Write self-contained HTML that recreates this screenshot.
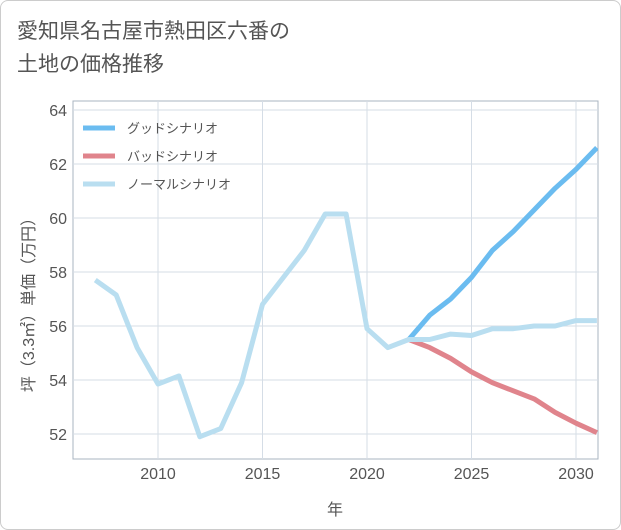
<!DOCTYPE html>
<html><head><meta charset="utf-8">
<style>
body{margin:0;background:#fff;}
#card{position:relative;width:619px;height:528px;border:1px solid #ccc;border-radius:8px;background:#fff;overflow:hidden;font-family:"Liberation Sans","Noto Sans CJK JP",sans-serif;}
#title{position:absolute;left:16px;top:14px;font-size:21px;line-height:33px;color:#555;}
</style></head><body>
<div id="card">
<div id="title">愛知県名古屋市熱田区六番の<br>土地の価格推移</div>
<svg id="chart" width="621" height="530" style="position:absolute;left:0;top:0"></svg>
</div>
<script>
const years=[2007,2008,2009,2010,2011,2012,2013,2014,2015,2016,2017,2018,2019,2020,2021,2022,2023,2024,2025,2026,2027,2028,2029,2030,2031];
const normalVals=[57.7,57.15,55.2,53.85,54.15,51.9,52.2,53.9,56.8,57.8,58.8,60.15,60.15,55.9,55.2,55.5,55.5,55.7,55.65,55.9,55.9,56.0,56.0,56.2,56.2];
const futureYears=[2022,2023,2024,2025,2026,2027,2028,2029,2030,2031];
const goodVals=[55.5,56.4,57.0,57.8,58.8,59.5,60.3,61.1,61.8,62.6];
const badVals=[55.5,55.2,54.8,54.3,53.9,53.6,53.3,52.8,52.4,52.05];
const xTicks=[2010,2015,2020,2025,2030];
const yTicks=[52,54,56,58,60,62,64];
const seriesNames=["グッドシナリオ","バッドシナリオ","ノーマルシナリオ"];
const L=72,R=597,T=100,B=458;
const x=v=>157+(v-2010)*20.9;
const y=v=>433-(v-52)*27;
const svg=document.getElementById('chart');
const NS='http://www.w3.org/2000/svg';
function mk(t,a,p){const e=document.createElementNS(NS,t);for(const k in a)e.setAttribute(k,a[k]);(p||svg).appendChild(e);return e;}
let e=mk('rect',{x:L,y:T,width:R-L,height:B-T,fill:'#fff',stroke:'#aab4c0'});


xTicks.forEach(t=>{
 let g=mk('line',{x1:x(t),x2:x(t),y1:T,y2:B,stroke:'#d5dde6'});
 
 
 let l=mk('text',{x:x(t),y:B+20,'text-anchor':'middle','font-size':16,fill:'#555'});l.textContent=t;
 
 
});
yTicks.forEach(t=>{
 let g=mk('line',{x1:L,x2:R,y1:y(t),y2:y(t),stroke:'#d5dde6'});
 
 
 let l=mk('text',{x:L-6,y:y(t)+6,'text-anchor':'end','font-size':16,fill:'#555'});l.textContent=t;
 
 
});
let xt=mk('text',{x:334,y:514,'text-anchor':'middle','font-size':16,fill:'#555'});xt.textContent='年';


let yt=mk('text',{x:0,y:0,'text-anchor':'middle','font-size':16,fill:'#555',transform:'translate(33,300) rotate(-90)'});yt.textContent='坪（3.3㎡）単価（万円）';


const clip=mk('clipPath',{id:'cp'});mk('rect',{x:L,y:T,width:R-L,height:B-T},clip);
function line(xs,vs,c,name){
 const p=mk('polyline',{points:xs.map((v,i)=>x(v)+','+y(vs[i])).join(' '),fill:'none',stroke:c,'stroke-width':5,'stroke-linejoin':'round','clip-path':'url(#cp)'});
 
 
}
line(futureYears,goodVals,'#6bbcf0','good-scenario-line');
line(futureYears,badVals,'#e0848c','bad-scenario-line');
line(years,normalVals,'#b9def0','normal-scenario-line');
const cols=['#6bbcf0','#e0848c','#b9def0'];
seriesNames.forEach((n,i)=>{
 const yy=127+i*28;
 let s=mk('line',{x1:82,x2:114,y1:yy,y2:yy,stroke:cols[i],'stroke-width':5});
 
 
 let t=mk('text',{x:126,y:yy+5,'font-size':13,fill:'#555'});t.textContent=n;
 
 
});
</script>
</body></html>
